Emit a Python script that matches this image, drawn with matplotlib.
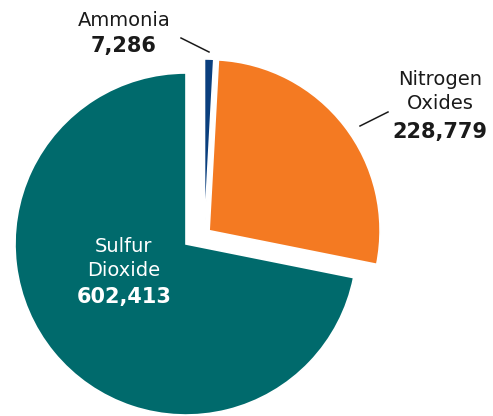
import matplotlib
matplotlib.use("Agg")
import matplotlib.pyplot as plt

# Emissions by pollutant (tons)
pollutants = ["Ammonia", "Nitrogen\nOxides", "Sulfur\nDioxide"]
emissions = [7286, 228779, 602413]
colors = ["#0A3F7E", "#F47A22", "#006A6C"]

W, H = 493, 416
CX, CY, R = 186, 244, 171  # pie centre and radius in pixels


def px(x, y):
    """Pixel position (from top-left) to data coordinates."""
    return (x - CX) / R, (CY - y) / R


fig = plt.figure(figsize=(W / 100, H / 100), dpi=100)
ax = fig.add_axes([0, 0, 1, 1])

wedges, _ = ax.pie(
    emissions,
    colors=colors,
    startangle=90,
    counterclock=False,
    radius=1.0,
    wedgeprops=dict(edgecolor="white", linewidth=1.2),
)

# Pull the two smaller slices out toward the upper right
wedges[0].set_center((0.108, 0.082))
wedges[1].set_center((0.135, 0.078))

ax.set_xlim(-CX / R, (W - CX) / R)
ax.set_ylim((CY - H) / R, CY / R)
ax.set_aspect("equal", adjustable="box")
ax.axis("off")

font = "DejaVu Sans"
dark = "#1a1a1a"

# Ammonia label
ax.text(*px(124, 21), "Ammonia", ha="center", va="center",
        fontsize=14, color=dark, family=font)
ax.text(*px(124, 46), f"{emissions[0]:,}", ha="center", va="center",
        fontsize=15, fontweight="bold", color=dark, family=font)
ax.plot(*zip(px(181, 38), px(209, 52)), color=dark, lw=1.1)

# Nitrogen oxides label
ax.text(*px(440, 80), "Nitrogen", ha="center", va="center",
        fontsize=14, color=dark, family=font)
ax.text(*px(440, 104), "Oxides", ha="center", va="center",
        fontsize=14, color=dark, family=font)
ax.text(*px(440, 132), f"{emissions[1]:,}", ha="center", va="center",
        fontsize=15, fontweight="bold", color=dark, family=font)
ax.plot(*zip(px(360, 126), px(388, 112)), color=dark, lw=1.1)

# Sulfur dioxide label inside its slice
ax.text(*px(124, 247), "Sulfur", ha="center", va="center",
        fontsize=14, color="white", family=font)
ax.text(*px(124, 271), "Dioxide", ha="center", va="center",
        fontsize=14, color="white", family=font)
ax.text(*px(124, 297), f"{emissions[2]:,}", ha="center", va="center",
        fontsize=15, fontweight="bold", color="white", family=font)

fig.savefig("out.png", dpi=100)
